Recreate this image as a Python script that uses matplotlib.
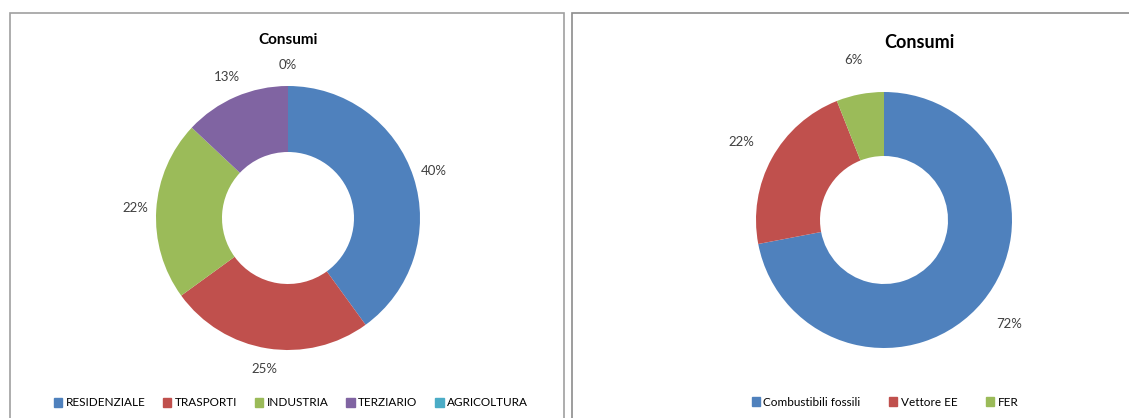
import matplotlib.pyplot as plt
from matplotlib.patches import Patch, Rectangle

plt.rcParams['font.family'] = ['Lato', 'DejaVu Sans']

# data
settori = ['RESIDENZIALE', 'TRASPORTI', 'INDUSTRIA', 'TERZIARIO', 'AGRICOLTURA']
consumi_settori = [40, 25, 22, 13, 0]
colori_settori = ['#4F81BD', '#C0504D', '#9BBB59', '#8064A2', '#4BACC6']

fonti = ['Combustibili fossili', 'Vettore EE', 'FER']
consumi_fonti = [72, 22, 6]
colori_fonti = ['#4F81BD', '#C0504D', '#9BBB59']

W, H = 1129, 418
fig = plt.figure(figsize=(W / 100, H / 100), dpi=100)


def px_axes(cx, cy, r, half=1.6):
    # square axes centred on pixel (cx, cy), pie radius r pixels
    s = r * half
    ax = fig.add_axes([(cx - s) / W, 1 - (cy + s) / H, 2 * s / W, 2 * s / H])
    return ax, half


def donut(ax, half, values, colors, pctdist):
    ax.pie(values, colors=colors, startangle=90, counterclock=False,
           radius=1, wedgeprops=dict(width=0.5, edgecolor='none'),
           autopct='%.0f%%', pctdistance=pctdist,
           textprops=dict(fontsize=9.5, color='#404040'))
    ax.set_xlim(-half, half)
    ax.set_ylim(-half, half)
    ax.set_aspect('equal')
    ax.axis('off')


# panel borders (bottom edge cut off, as in the source)
fig.add_artist(Rectangle((10 / W, -0.1), 554 / W, 1.1 - 13 / H, transform=fig.transFigure,
                         fill=False, edgecolor='#A0A0A0', linewidth=1.2))
fig.add_artist(Rectangle((572 / W, -0.1), 600 / W, 1.1 - 13 / H, transform=fig.transFigure,
                         fill=False, edgecolor='#8C8C8C', linewidth=1.2))

# left chart
ax1, h1 = px_axes(288, 218, 132)
donut(ax1, h1, consumi_settori, colori_settori, 1.16)
fig.text(288 / W, 1 - 40 / H, 'Consumi', ha='center', va='center',
         fontsize=11, fontweight='bold')
fig.legend(handles=[Patch(color=c, label=l) for c, l in zip(colori_settori, settori)],
           loc='center', bbox_to_anchor=(291 / W, 1 - 403 / H), ncol=5,
           frameon=False, fontsize=8.5, handlelength=0.7, handleheight=0.7,
           handletextpad=0.3, columnspacing=1.5)

# right chart
ax2, h2 = px_axes(884, 220, 128)
donut(ax2, h2, consumi_fonti, colori_fonti, 1.27)
fig.text(919 / W, 1 - 43 / H, 'Consumi', ha='center', va='center',
         fontsize=13, fontweight='bold')
fig.legend(handles=[Patch(color=c, label=l) for c, l in zip(colori_fonti, fonti)],
           loc='center', bbox_to_anchor=(885 / W, 1 - 402 / H), ncol=3,
           frameon=False, fontsize=8.5, handlelength=0.7, handleheight=0.7,
           handletextpad=0.3, columnspacing=2.4)

fig.savefig('out.png', dpi=100)
